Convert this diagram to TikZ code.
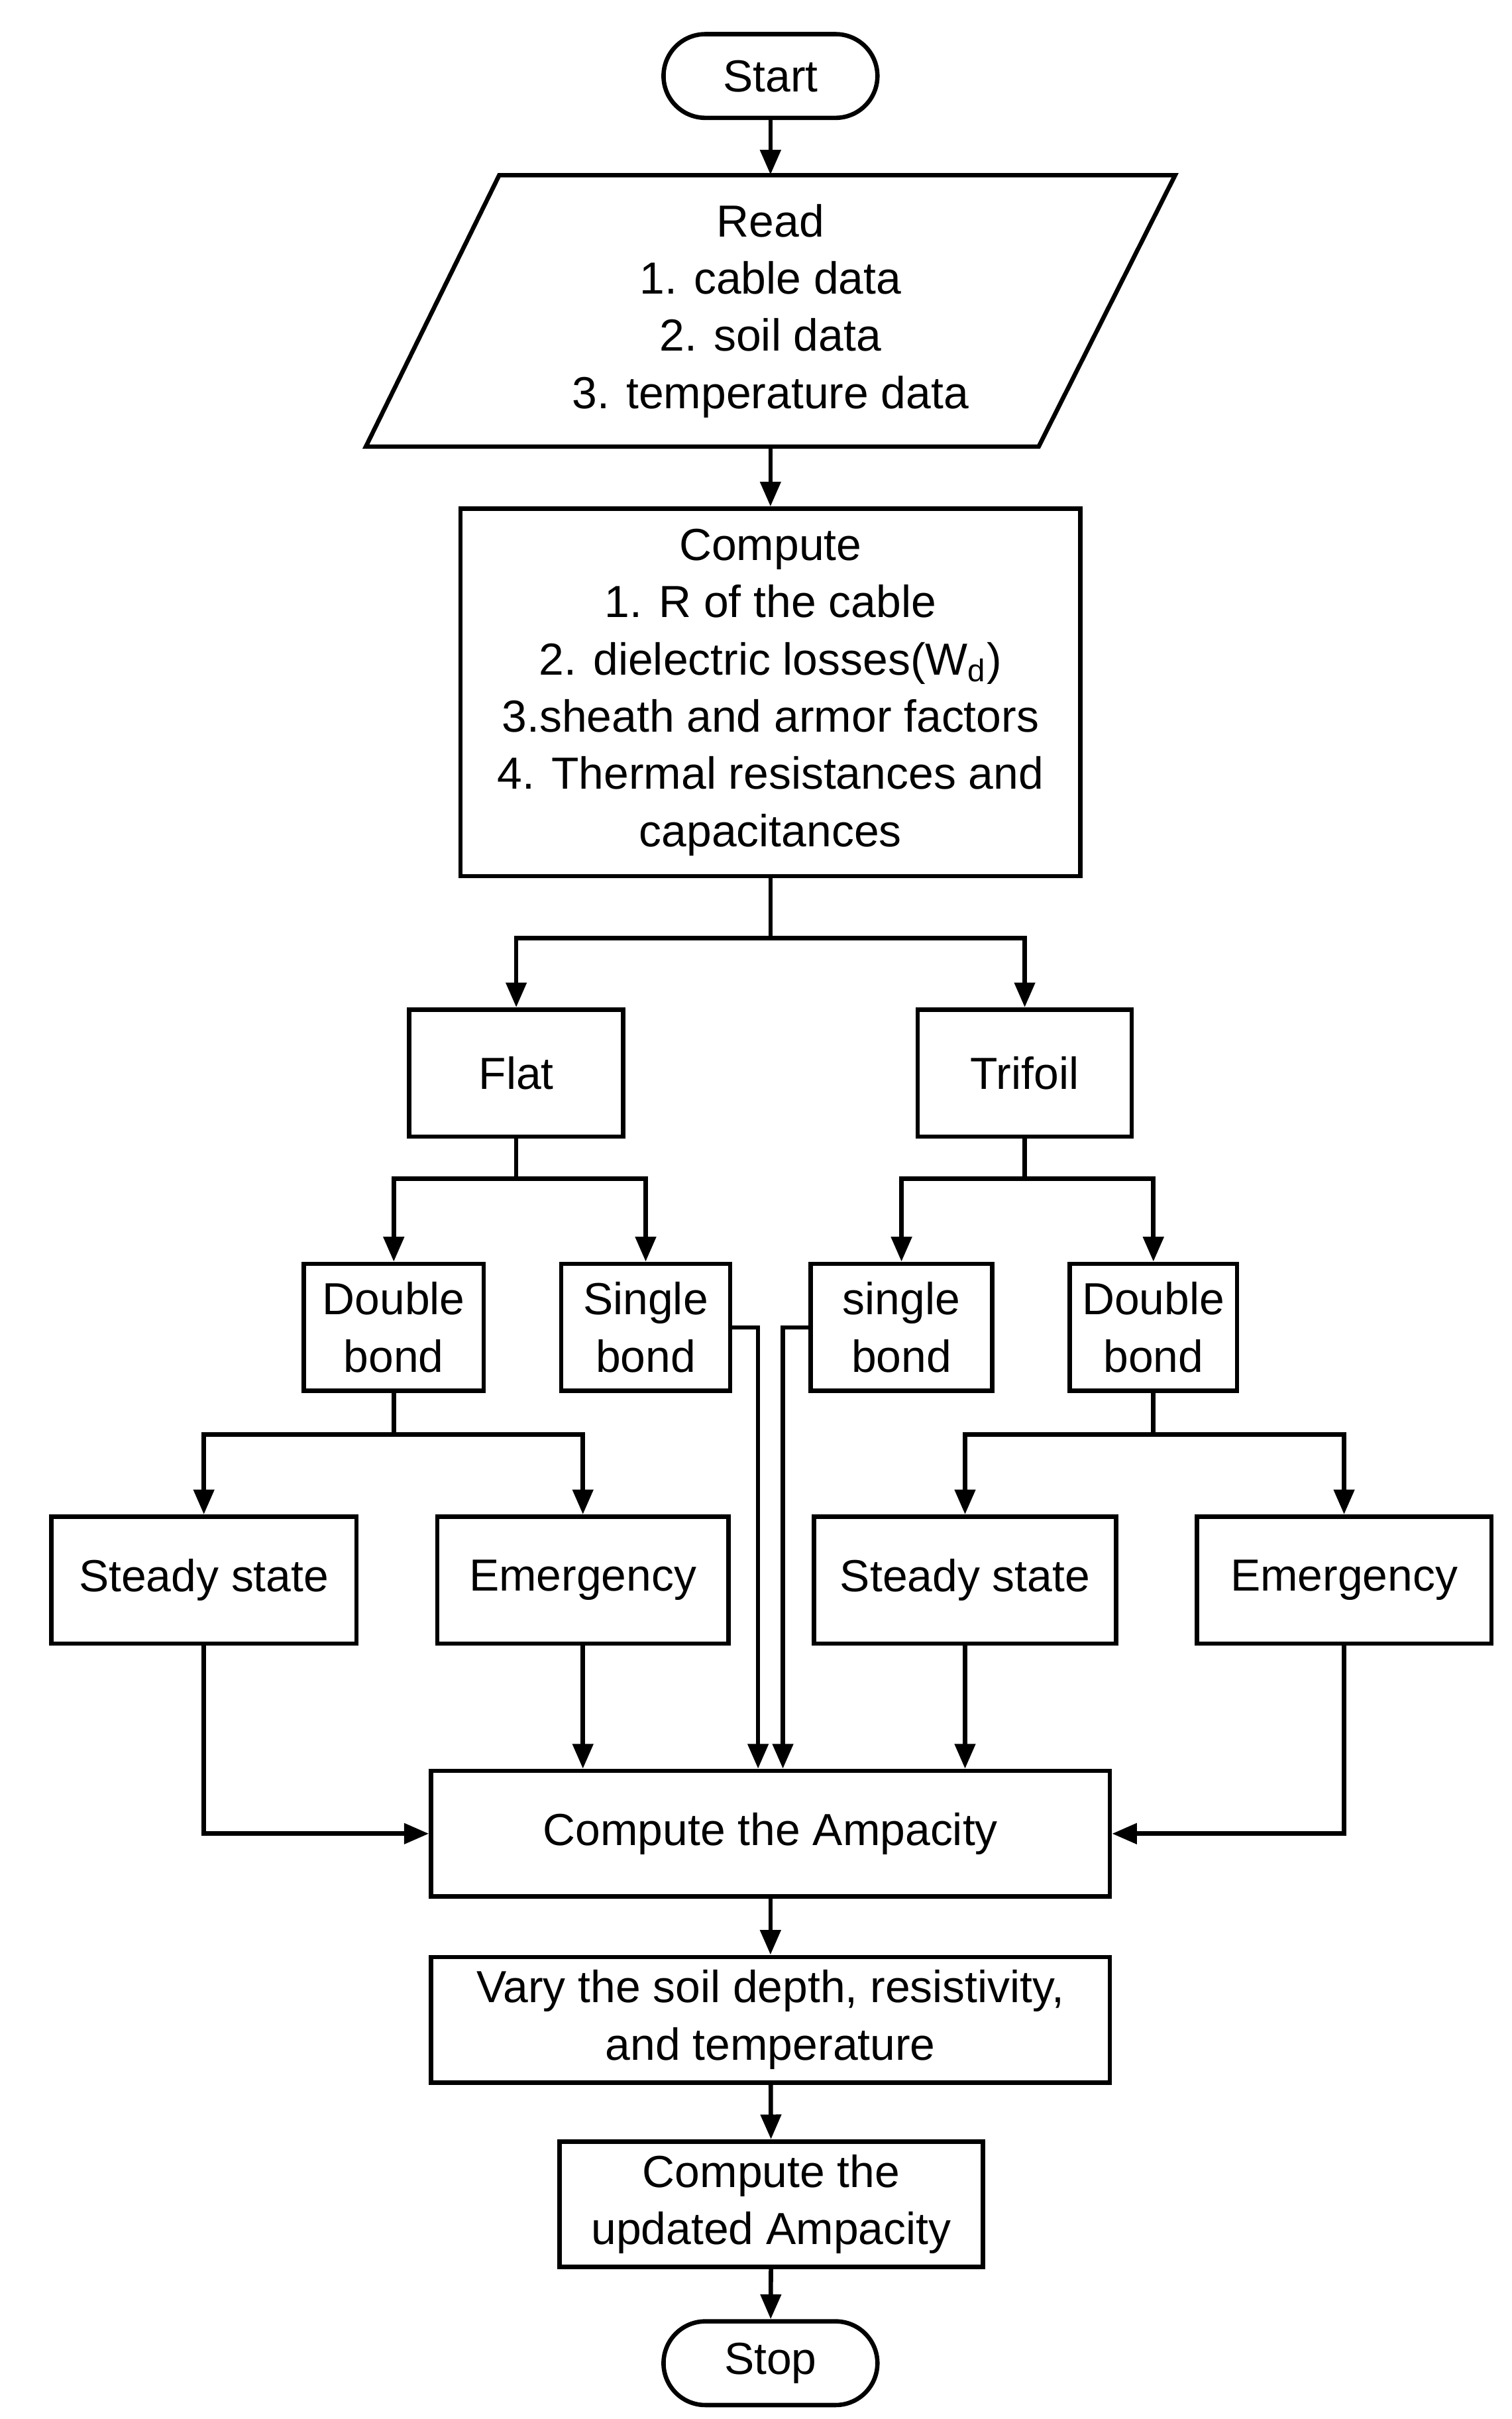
\documentclass[tikz,border=0pt]{standalone}
\usepackage{fontspec}
\setmainfont{Liberation Sans}
\usetikzlibrary{arrows.meta}
\begin{document}
\begin{tikzpicture}[x=0.02cm,y=-0.02cm,
  every node/.style={font=\fontsize{16.5}{21}\selectfont, align=center, inner sep=0pt},
  box/.style={draw, line width=1.6pt},
  term/.style={draw, line width=1.6pt, rounded corners=0.54cm},
  ln/.style={line width=1.6pt},
  ar/.style={line width=1.6pt, -{Triangle[length=0.32cm,width=0.26cm]}}]
\useasboundingbox (0,0) rectangle (975,1560);
\node[term, minimum width=2.76cm, minimum height=1.08cm] (start) at (497,49) {Start};
\draw[line width=1.6pt] (322,113) -- (758,113) -- (670,288) -- (236,288) -- cycle;
\node[minimum height=3.5cm, minimum width=6cm] (read) at (497,200.5) {Read\\1. cable data\\2. soil data\\3. temperature data};
\node[box, minimum width=8cm, minimum height=4.74cm] (comp) at (497,446.5) {Compute\\1. R of the cable\\2. dielectric losses(W\textsubscript{d})\\3.sheath and armor factors\\4. Thermal resistances and\\capacitances};
\node[box, minimum width=2.76cm, minimum height=1.64cm] (flat) at (333,692) {Flat};
\node[box, minimum width=2.76cm, minimum height=1.64cm] (tri) at (661,692) {Trifoil};
\node[box, minimum width=2.32cm, minimum height=1.64cm] (dbl) at (254,856) {Double\\bond};
\node[box, minimum width=2.18cm, minimum height=1.64cm] (sbl) at (416.5,856) {Single\\bond};
\node[box, minimum width=2.34cm, minimum height=1.64cm] (sbr) at (581.5,856) {single\\bond};
\node[box, minimum width=2.16cm, minimum height=1.64cm] (dbr) at (744,856) {Double\\bond};
\node[box, minimum width=3.94cm, minimum height=1.64cm] (stl) at (131.5,1019) {Steady state};
\node[box, minimum width=3.76cm, minimum height=1.64cm] (eml) at (376,1019) {Emergency};
\node[box, minimum width=3.9cm, minimum height=1.64cm] (str) at (622.5,1019) {Steady state};
\node[box, minimum width=3.8cm, minimum height=1.64cm] (emr) at (867,1019) {Emergency};
\node[box, minimum width=8.76cm, minimum height=1.62cm] (amp) at (497,1182.5) {Compute the Ampacity};
\node[box, minimum width=8.76cm, minimum height=1.62cm] (vary) at (497,1302.5) {Vary the soil depth, resistivity,\\and temperature};
\node[box, minimum width=5.46cm, minimum height=1.62cm] (upd) at (497.5,1421.5) {Compute the\\updated Ampacity};
\node[term, minimum width=2.76cm, minimum height=1.08cm] (stop) at (497,1524) {Stop};
\coordinate (c1) at (497,605);
\coordinate (c2) at (333,760);
\coordinate (c3) at (661,760);
\coordinate (c4) at (254,925);
\coordinate (c5) at (744,925);
\draw[ar] (start) -- (read);
\draw[ar] (read) -- (comp);
\draw[ln] (comp) -- (c1);
\draw[ar] (c1) -| (flat);
\draw[ar] (c1) -| (tri);
\draw[ln] (flat) -- (c2);
\draw[ar] (c2) -| (dbl);
\draw[ar] (c2) -| (sbl);
\draw[ln] (tri) -- (c3);
\draw[ar] (c3) -| (sbr);
\draw[ar] (c3) -| (dbr);
\draw[ln] (dbl) -- (c4);
\draw[ar] (c4) -| (stl);
\draw[ar] (c4) -| (eml);
\draw[ln] (dbr) -- (c5);
\draw[ar] (c5) -| (str);
\draw[ar] (c5) -| (emr);
\draw[ar] (stl) |- (amp);
\draw[ar] (eml) -- (eml |- amp.north);
\draw[ar] (str) -- (str |- amp.north);
\draw[ar] (emr) |- (amp);
\draw[ar] (sbl.east) -| ([xshift=-0.16cm]amp.north);
\draw[ar] (sbr.west) -| ([xshift=0.16cm]amp.north);
\draw[ar] (amp) -- (vary);
\draw[ar] (vary) -- (upd);
\draw[ar] (upd) -- (stop);
\end{tikzpicture}
\end{document}
